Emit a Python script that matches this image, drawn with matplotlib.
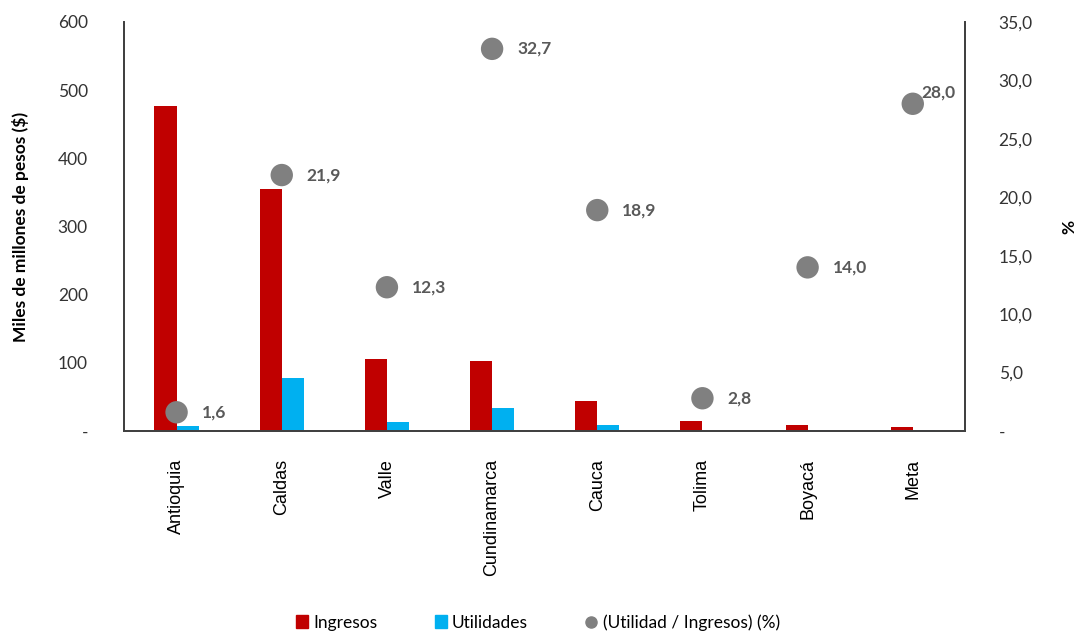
import matplotlib
matplotlib.use("Agg")
import matplotlib.pyplot as plt
import numpy as np
from matplotlib.lines import Line2D
from matplotlib.patches import Patch

# data
departamentos = ["Antioquia", "Caldas", "Valle", "Cundinamarca", "Cauca", "Tolima", "Boyacá", "Meta"]
ingresos = [477, 355, 105, 102, 44, 15, 9, 6]
utilidades = [7.6, 77.7, 12.9, 33.4, 8.3, 0.4, 1.3, 1.7]
margen = [1.6, 21.9, 12.3, 32.7, 18.9, 2.8, 14.0, 28.0]

left_ticks = [0, 100, 200, 300, 400, 500, 600]
right_ticks = [0, 5, 10, 15, 20, 25, 30, 35]

rojo = "#C00000"
azul = "#00B0F0"
gris = "#808080"
texto = "#333333"

plt.rcParams["font.family"] = ["Lato", "DejaVu Sans"]

fig = plt.figure(figsize=(10.82, 6.35), dpi=100)
ax = fig.add_axes([0.1146, 0.3213, 0.7776, 0.6441])
ax2 = ax.twinx()

x = np.arange(len(departamentos))
w = 0.21
ax.bar(x - w / 2, ingresos, width=w, color=rojo, zorder=2)
ax.bar(x + w / 2, utilidades, width=w, color=azul, zorder=2)

ax.set_xlim(-0.5, len(departamentos) - 0.5)
ax.set_ylim(0, 600)
ax.set_yticks(left_ticks)
ax.set_yticklabels(["-" if v == 0 else str(v) for v in left_ticks])
ax.set_xticks(x)
ax.set_xticklabels(departamentos, rotation=90, family=["Liberation Sans"], fontsize=13, color="#000000")
ax.tick_params(axis="both", length=0)
ax.tick_params(axis="y", labelsize=12.5, labelcolor=texto, pad=26)
ax.tick_params(axis="x", pad=20)
ax.set_ylabel("Miles de millones de pesos ($)", fontsize=12.5, fontweight="bold", color="#000000")
ax.yaxis.set_label_coords(-0.113, 0.5)

ax2.scatter(x, margen, s=260, color=gris, zorder=3, edgecolors="none")
ax2.set_ylim(0, 35)
ax2.set_yticks(right_ticks)
ax2.set_yticklabels(["-" if v == 0 else f"{v:.1f}".replace(".", ",") for v in right_ticks])
ax2.tick_params(axis="y", length=0, labelsize=12.5, labelcolor=texto, pad=24)
ax2.set_ylabel("%", fontsize=12.5, fontweight="bold", color="#000000", rotation=90)
ax2.yaxis.set_label_coords(1.114, 0.5)

for i, v in enumerate(margen):
    lbl = f"{v:.1f}".replace(".", ",")
    if departamentos[i] == "Meta":
        ax2.annotate(lbl, (x[i], v), xytext=(6, 8), textcoords="offset points",
                     ha="left", va="center", fontsize=12.5, fontweight="bold", color="#595959")
    else:
        ax2.annotate(lbl, (x[i], v), xytext=(18, 0), textcoords="offset points",
                     ha="left", va="center", fontsize=12.5, fontweight="bold", color="#595959")

for a in (ax, ax2):
    a.spines["top"].set_visible(False)
    for s in ("left", "right", "bottom"):
        a.spines[s].set_color("#404040")
        a.spines[s].set_linewidth(1.3)

handles = [
    Patch(color=rojo, label="Ingresos"),
    Patch(color=azul, label="Utilidades"),
    Line2D([], [], marker="o", linestyle="none", markersize=8, color=gris, label="(Utilidad / Ingresos) (%)"),
]
fig.legend(handles=handles, loc="center", bbox_to_anchor=(0.497, 0.02), ncol=3, frameon=False,
           fontsize=12.5, handlelength=0.7, handleheight=0.7, handletextpad=0.3, columnspacing=3.3,
           labelcolor="#000000")

fig.savefig("out.png", dpi=100)
